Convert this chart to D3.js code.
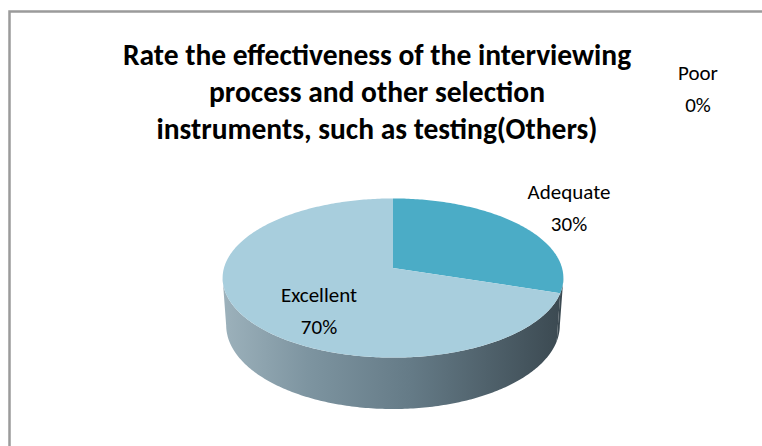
<!DOCTYPE html>
<html>
<head>
<meta charset="utf-8">
<script src="https://cdn.jsdelivr.net/npm/d3@7"></script>
<style>
    body { margin:0; background:#fff }
    svg { display:block }
</style>
</head>
<body>
<svg id="chart" width="762" height="446"></svg>
<script>
var categories = ['Poor', 'Adequate', 'Excellent']
var values     = [0, 30, 70]
var titleLines = ['Rate the effectiveness of the interviewing',
                  'process and other selection',
                  'instruments, such as testing(Others)']

var colors = { Poor:'#2c4d75', Adequate:'#4bacc6', Excellent:'#a8cedd' }

// where Excel left the data labels, relative to the pie centre (first line baseline)
var labelOffset = { Poor:[305, -188], Adequate:[176, -69], Excellent:[-74, 34] }

var svg = d3.select('#chart')

// simple perspective camera looking down on the disc
var cam = { cx:393, cy:268, f:1190, dist:7.04, tilt:27.6 * Math.PI / 180, thick:0.32 }

function project(a, r, h)
{
    var x = r * Math.sin(a)
    var z = r * Math.cos(a)          // + is the far side
    var s = Math.sin(cam.tilt), c = Math.cos(cam.tilt)
    var yv = z * s + h * c
    var dv = cam.dist + z * c - h * s
    return [cam.cx + cam.f * x / dv, cam.cy - cam.f * yv / dv]
}

function rim(a0, a1, h)
{
    var n = Math.max(2, Math.ceil(Math.abs(a1 - a0) / 0.015))
    return d3.range(n + 1).map(i=> project(a0 + (a1 - a0) * i / n, 1, h))
}

var data = categories.map((k, i)=> ({ name:k, value:values[i] }))
var arcs = d3.pie()
    .sort(null)
    .value(d=> d.value)
    .startAngle(0)
    .endAngle(2 * Math.PI)(data)

var total = d3.sum(values)
var line = d3.line()

// outer wall only shows between the two silhouette angles
var edge = Math.acos(-Math.cos(cam.tilt) / cam.dist)
var wallFrom = edge, wallTo = 2 * Math.PI - edge

var defs = svg.append('defs')
var grad = defs.append('linearGradient')
    .attr('id', 'wall')
    .attr('gradientUnits', 'userSpaceOnUse')
    .attr('x1', project(-Math.PI / 2, 1, 0)[0]).attr('x2', project(Math.PI / 2, 1, 0)[0])
    .attr('y1', 0).attr('y2', 0)
grad.selectAll('stop')
    .data([[0, '#9cb1bb'], [0.25, '#7d94a0'], [0.55, '#657b87'], [1, '#3b4951']])
    .join('stop')
    .attr('offset', d=> d[0])
    .attr('stop-color', d=> d[1])

// frame of the chart area (right and bottom run off the picture)
svg.append('rect')
    .attr('x', 9.5).attr('y', 11.5)
    .attr('width', 800).attr('height', 500)
    .attr('fill', 'none')
    .attr('stroke', '#9b9b9b')
    .attr('stroke-width', 2.5)

svg.append('g')
    .selectAll('text')
    .data(titleLines)
    .join('text')
    .attr('x', 377)
    .attr('y', (d, i)=> 65 + i * 37)
    .attr('text-anchor', 'middle')
    .style('font-family', 'Carlito, Calibri, Lato, sans-serif')
    .style('font-weight', 'bold')
    .style('font-size', '29.5px')
    .style('fill', '#000')
    .text(d=> d)

var pie = svg.append('g')
var shown = arcs.filter(d=> d.value > 0)

pie.selectAll('path.wall')
    .data(shown.filter(d=> d.endAngle > wallFrom && d.startAngle < wallTo))
    .join('path')
    .attr('class', 'wall')
    .attr('fill', 'url(#wall)')
    .attr('d', d=> {
        var a0 = Math.max(d.startAngle, wallFrom), a1 = Math.min(d.endAngle, wallTo)
        return line(rim(a0, a1, 0).concat(rim(a1, a0, -cam.thick))) + 'Z'
    })

pie.selectAll('path.top')
    .data(shown)
    .join('path')
    .attr('class', 'top')
    .attr('fill', d=> colors[d.data.name])
    .attr('d', d=> line([project(0, 0, 0)].concat(rim(d.startAngle, d.endAngle, 0))) + 'Z')

var labels = svg.append('g')
    .selectAll('text')
    .data(arcs)
    .join('text')
    .attr('text-anchor', 'middle')
    .style('font-family', 'Carlito, Calibri, Lato, sans-serif')
    .style('font-size', '21px')
    .style('fill', '#000')

labels.append('tspan')
    .attr('x', d=> cam.cx + labelOffset[d.data.name][0])
    .attr('y', d=> cam.cy + labelOffset[d.data.name][1])
    .text(d=> d.data.name)

labels.append('tspan')
    .attr('x', d=> cam.cx + labelOffset[d.data.name][0])
    .attr('dy', 32)
    .text(d=> d3.format('.0%')(d.value / total))
</script>
</body>
</html>
